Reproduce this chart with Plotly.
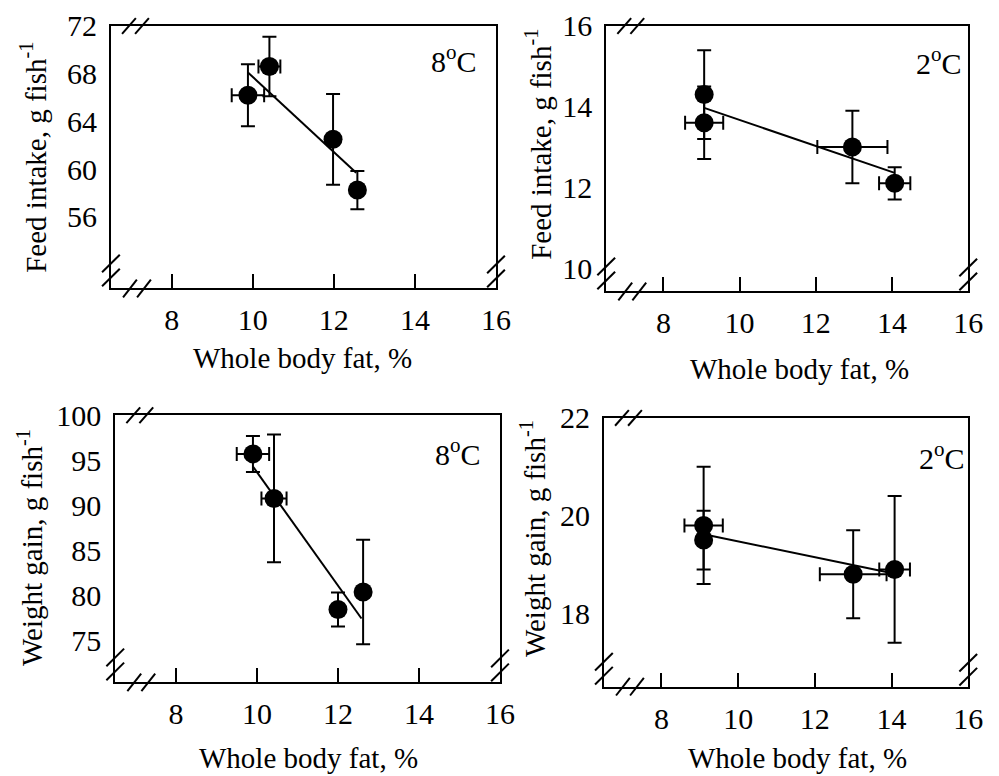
import plotly.graph_objects as go

W, H = 999, 776
# page-to-figure placement: positions below are given in page pixels
SX, SY, OY = 0.983, 0.980, 15.0

# ---- data -------------------------------------------------------------
# top-left: feed intake at 8 oC
fi8_fat = [9.88, 10.41, 11.98, 12.58]
fi8_fat_err = [0.40, 0.27, 0.0, 0.0]
fi8_val = [66.2, 68.6, 62.5, 58.25]
fi8_val_err = [2.6, 2.5, 3.8, 1.6]
fi8_fit_x = [9.88, 12.55]
fi8_fit_y = [68.1, 59.7]

# top-right: feed intake at 2 oC
fi2_fat = [9.07, 9.07, 12.96, 14.07]
fi2_fat_err = [0.0, 0.50, 0.92, 0.41]
fi2_val = [14.3, 13.6, 13.0, 12.1]
fi2_val_err = [1.1, 0.9, 0.9, 0.4]
fi2_fit_x = [9.07, 14.07]
fi2_fit_y = [13.97, 12.36]

# bottom-left: weight gain at 8 oC
wg8_fat = [9.9, 10.42, 12.0, 12.62]
wg8_fat_err = [0.40, 0.31, 0.0, 0.0]
wg8_val = [95.7, 90.75, 78.4, 80.35]
wg8_val_err = [2.0, 7.1, 1.9, 5.8]
wg8_fit_x = [9.9, 12.58]
wg8_fit_y = [94.3, 77.4]

# bottom-right: weight gain at 2 oC
wg2_fat = [9.1, 9.1, 13.0, 14.08]
wg2_fat_err = [0.5, 0.0, 0.87, 0.40]
wg2_val = [19.8, 19.5, 18.8, 18.9]
wg2_val_err = [1.2, 0.6, 0.9, 1.5]
wg2_fit_x = [9.1, 13.9]
wg2_fit_y = [19.62, 18.84]

x_ticks = [8, 10, 12, 14, 16]
x_range = [6.5, 16]

panels = [
    dict(fat=fi8_fat, fat_err=fi8_fat_err, val=fi8_val, val_err=fi8_val_err,
         fit_x=fi8_fit_x, fit_y=fi8_fit_y, yr=[50, 72], yt=[56, 60, 64, 68, 72],
         ytitle="Feed intake, g fish<sup>-1</sup>", temp="8<sup>o</sup>C",
         box=(110.7, 495.0, 24.0, 287.0), ytc=(33, 156), xtc=(302, 357), tc=(478, 57)),
    dict(fat=fi2_fat, fat_err=fi2_fat_err, val=fi2_val, val_err=fi2_val_err,
         fit_x=fi2_fit_x, fit_y=fi2_fit_y, yr=[9.42, 16], yt=[10, 12, 14, 16],
         ytitle="Feed intake, g fish<sup>-1</sup>", temp="2<sup>o</sup>C",
         box=(605.0, 980.7, 24.0, 290.0), ytc=(537, 143), xtc=(798, 368), tc=(962, 59)),
    dict(fat=wg8_fat, fat_err=wg8_fat_err, val=wg8_val, val_err=wg8_val_err,
         fit_x=wg8_fit_x, fit_y=wg8_fit_y, yr=[70.3, 100], yt=[75, 80, 85, 90, 95, 100],
         ytitle="Weight gain, g fish<sup>-1</sup>", temp="8<sup>o</sup>C",
         box=(115.0, 499.0, 414.0, 681.7), ytc=(30, 547), xtc=(308, 757), tc=(482, 451)),
    dict(fat=wg2_fat, fat_err=wg2_fat_err, val=wg2_val, val_err=wg2_val_err,
         fit_x=wg2_fit_x, fit_y=wg2_fit_y, yr=[16.5, 22], yt=[18, 20, 22],
         ytitle="Weight gain, g fish<sup>-1</sup>", temp="2<sup>o</sup>C",
         box=(602.7, 982.7, 416.7, 686.0), ytc=(532, 538), xtc=(796, 757), tc=(965, 455)),
]

FONT = "Liberation Serif"
TICK_FS = 30
TITLE_FS = 29
TEMP_FS = 30
X_MAX = 983.0   # keeps the rightmost "16" tick label inside the figure


def fx(x):
    return x / SX


def fy(y):
    return (y - OY) / SY


def px(x):
    return fx(x) / W


def py(y):
    return 1 - fy(y) / H


fig = go.Figure()
annotations = []
shapes = []
layout = {}

for i, p in enumerate(panels):
    n = i + 1
    xa = "x" if n == 1 else f"x{n}"
    ya = "y" if n == 1 else f"y{n}"
    L, R, T, B = p["box"]
    right = min(fx(R), X_MAX) / W

    # fitted regression line
    fig.add_trace(go.Scatter(
        x=p["fit_x"], y=p["fit_y"], mode="lines", xaxis=xa, yaxis=ya,
        line=dict(color="black", width=2), showlegend=False, hoverinfo="skip"))

    # means with standard errors
    fig.add_trace(go.Scatter(
        x=p["fat"], y=p["val"], mode="markers", xaxis=xa, yaxis=ya,
        marker=dict(color="black", size=19),
        error_x=dict(type="data", array=p["fat_err"], color="black",
                     thickness=2, width=7, visible=True),
        error_y=dict(type="data", array=p["val_err"], color="black",
                     thickness=2, width=7, visible=True),
        showlegend=False))

    layout[f"xaxis{n}"] = dict(
        domain=[px(L), right], anchor=ya, range=x_range, tickvals=x_ticks,
        ticks="inside", ticklen=14, tickwidth=2, tickcolor="black",
        showline=True, mirror=True, linewidth=2, linecolor="black",
        showgrid=False, zeroline=False, ticklabelstandoff=4,
        tickfont=dict(family=FONT, size=TICK_FS, color="black"))
    layout[f"yaxis{n}"] = dict(
        domain=[py(B), min(py(T), 1.0)], anchor=xa, range=p["yr"], tickvals=p["yt"],
        ticks="", showline=True, mirror=True, linewidth=2, linecolor="black",
        showgrid=False, zeroline=False, ticklabelstandoff=6,
        tickfont=dict(family=FONT, size=TICK_FS, color="black"))
    # right-hand axis carrying the inward tick marks
    layout[f"yaxis{n + 4}"] = dict(
        overlaying=ya, side="right", anchor=xa, range=p["yr"], tickvals=p["yt"],
        ticks="inside", ticklen=14, tickwidth=2, tickcolor="black",
        showticklabels=False, showline=False, showgrid=False, zeroline=False)

    # axis titles and temperature label
    annotations.append(dict(
        x=px(p["ytc"][0]), y=py(p["ytc"][1]), xref="paper", yref="paper",
        text=p["ytitle"], textangle=-90, showarrow=False,
        xanchor="center", yanchor="middle",
        font=dict(family=FONT, size=TITLE_FS, color="black")))
    annotations.append(dict(
        x=px(p["xtc"][0]), y=py(p["xtc"][1]), xref="paper", yref="paper",
        text="Whole body fat, %", showarrow=False,
        xanchor="center", yanchor="middle",
        font=dict(family=FONT, size=TITLE_FS, color="black")))
    annotations.append(dict(
        x=min(px(p["tc"][0]), right), y=py(p["tc"][1]), xref="paper", yref="paper",
        text=p["temp"], showarrow=False, xanchor="right", yanchor="middle",
        font=dict(family=FONT, size=TEMP_FS, color="black")))

    # axis-break marks (pairs of slashes)
    def slash(cx, cy, dx, dy):
        shapes.append(dict(type="line", xref="paper", yref="paper",
                           x0=cx - dx / W, y0=cy - dy / H,
                           x1=cx + dx / W, y1=cy + dy / H,
                           line=dict(color="black", width=2)))

    xl, xr = px(L), right
    yt_, yb = min(py(T), 1.0), py(B)
    for off in (18, 31):           # top edge
        slash(xl + off / SX / W, yt_, 7, 8)
    for off in (19, 33):           # bottom edge
        slash(xl + off / SX / W, yb, 7, 9)
    for off in (25, 11):           # left edge
        slash(xl, yb + off / SY / H, 9, 9)
    for off in (24, 10):           # right edge
        slash(xr, yb + off / SY / H, 9, 9)

fig.update_layout(
    width=W, height=H, margin=dict(l=0, r=0, t=0, b=0),
    paper_bgcolor="white", plot_bgcolor="white",
    showlegend=False, annotations=annotations, shapes=shapes, **layout)

fig.write_html("out.html")
